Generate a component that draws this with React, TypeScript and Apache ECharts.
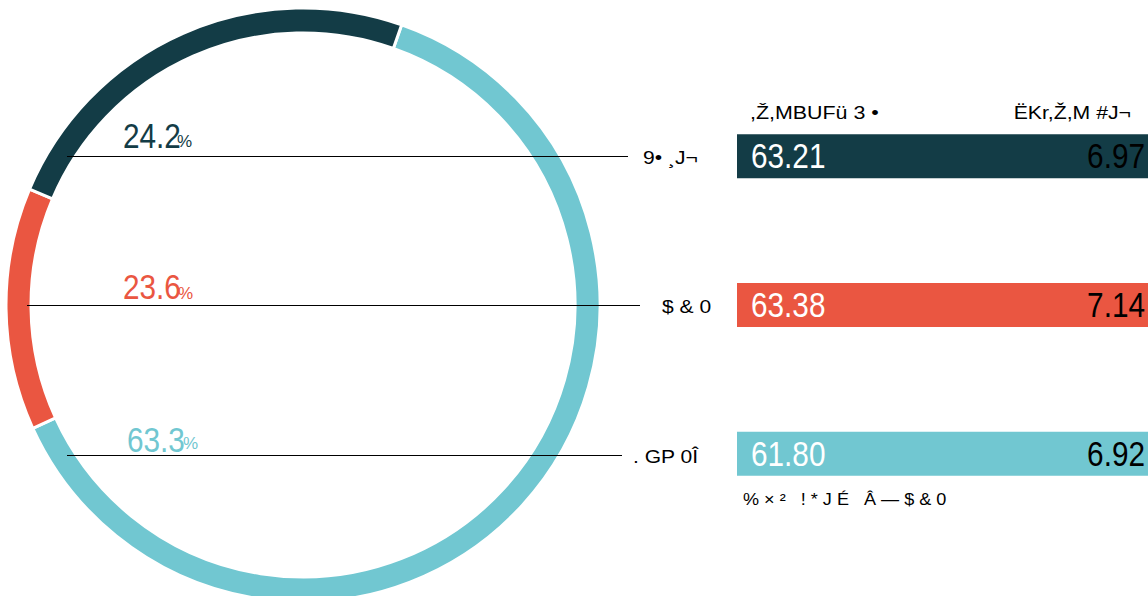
import React, { useEffect, useRef } from "react";
import * as echarts from "echarts";

// Ring (pie) data
const ringNames = ["blue", "red", "dark"];
const ringValues = [63.3, 13.3, 24.2];
const ringColors = ["#71c7d1", "#ea5641", "#133c46"];

// Percentage labels next to ring, top to bottom
const pctLabels = ["24.2", "23.6", "63.3"];
const pctColors = ["#133c46", "#ea5641", "#71c7d1"];
const sideLabels = ["9• ¸J¬", "$ & 0", ". GP 0Î"];

// Right side table
const headerLeft = ",Ž,MBUFü 3 •";
const headerRight = "ËKr,Ž,M #J¬";
const rowCategories = ["row1", "row2", "row3"];
const leftValues = ["63.21", "63.38", "61.80"];
const rightValues = ["6.97", "7.14", "6.92"];
const barColors = ["#133c46", "#ea5641", "#71c7d1"];
const footnote = "% × ²   ! * J É   Â — $ & 0";

const SANS = "'Liberation Sans', Arial, sans-serif";

export default function App() {
  const ref = useRef<HTMLDivElement>(null);
  useEffect(() => {
    document.body.style.margin = "0";
    const chart = echarts.init(ref.current!, null, { renderer: "svg" });

    chart.setOption({
      animation: false,
      grid: { left: 737, right: 0, top: 82, height: 446 },
      xAxis: { type: "value", min: 0, max: 1, show: false },
      yAxis: { type: "category", data: rowCategories, inverse: true, show: false },
      series: [
        {
          type: "pie",
          silent: true,
          center: [303, 305],
          radius: [272, 297],
          startAngle: 70.6,
          clockwise: true,
          label: { show: false },
          labelLine: { show: false },
          itemStyle: { borderColor: "#fff", borderWidth: 3 },
          data: ringNames.map((n, i) => ({ name: n, value: ringValues[i], itemStyle: { color: ringColors[i] } })),
        },
        {
          type: "bar",
          silent: true,
          barWidth: 44,
          data: rowCategories.map((c, i) => ({ value: 1, itemStyle: { color: barColors[i] } })),
          label: { show: false },
        },
      ],
    });

    const lineY = [156.5, 305.5, 455.5];
    const lineX1 = [67, 27, 67];
    const lineX2 = [628, 640, 622];
    const sideX = [643, 662, 633];
    const pctX = [123, 123, 127];
    const pctY = [136, 287, 440];
    const pctPctX = [177, 178, 183];
    const pctPctY = [141, 293, 443];

    const graphic: any[] = [];
    for (let i = 0; i < 3; i++) {
      graphic.push({
        type: "line",
        z: 100,
        shape: { x1: lineX1[i], y1: lineY[i], x2: lineX2[i], y2: lineY[i] },
        style: { stroke: "#000", lineWidth: 1 },
        silent: true,
      });
      graphic.push({
        type: "text",
        z: 100,
        x: sideX[i],
        y: lineY[i] + 1,
        scaleX: 1.17,
        style: {
          text: sideLabels[i],
          fill: "#000",
          fontSize: 18,
          fontFamily: SANS,
          textAlign: "left",
          textVerticalAlign: "middle",
        },
      });
      graphic.push({
        type: "text",
        z: 100,
        x: pctX[i],
        y: pctY[i],
        scaleX: 0.85,
        style: {
          text: pctLabels[i],
          fill: pctColors[i],
          fontSize: 35,
          fontFamily: SANS,
          textAlign: "left",
          textVerticalAlign: "middle",
        },
      });
      graphic.push({
        type: "text",
        z: 101,
        x: pctPctX[i],
        y: pctPctY[i],
        style: {
          text: "%",
          fill: pctColors[i],
          fontSize: 17,
          fontFamily: SANS,
          textAlign: "left",
          textVerticalAlign: "middle",
        },
      });
      // bar value texts, positioned through the axes
      const yPix = chart.convertToPixel({ yAxisIndex: 0 }, rowCategories[i]) as number;
      const x0 = chart.convertToPixel({ xAxisIndex: 0 }, 0) as number;
      const x1 = chart.convertToPixel({ xAxisIndex: 0 }, 1) as number;
      graphic.push({
        type: "text",
        z: 100,
        x: x0 + 14,
        y: yPix,
        scaleX: 0.85,
        style: {
          text: leftValues[i],
          fill: "#fff",
          fontSize: 35,
          fontFamily: SANS,
          textAlign: "left",
          textVerticalAlign: "middle",
        },
      });
      graphic.push({
        type: "text",
        z: 100,
        x: x1 - 3,
        y: yPix,
        scaleX: 0.85,
        style: {
          text: rightValues[i],
          fill: "#000",
          fontSize: 35,
          fontFamily: SANS,
          textAlign: "right",
          textVerticalAlign: "middle",
        },
      });
    }
    graphic.push({
      type: "text",
      z: 100,
      x: 750,
      y: 113,
      scaleX: 1.19,
      style: { text: headerLeft, fill: "#000", fontSize: 18, fontFamily: SANS, textVerticalAlign: "middle" },
    });
    graphic.push({
      type: "text",
      z: 100,
      x: 1131,
      y: 113,
      scaleX: 1.18,
      style: { text: headerRight, fill: "#000", fontSize: 18, fontFamily: SANS, textAlign: "right", textVerticalAlign: "middle" },
    });
    graphic.push({
      type: "text",
      z: 100,
      x: 743,
      y: 500,
      scaleX: 1.13,
      style: { text: footnote, fill: "#000", fontSize: 16, fontFamily: SANS, textVerticalAlign: "middle" },
    });

    chart.setOption({ graphic });
    return () => chart.dispose();
  }, []);
  return <div ref={ref} style={{ width: 1148, height: 596 }} />;
}
